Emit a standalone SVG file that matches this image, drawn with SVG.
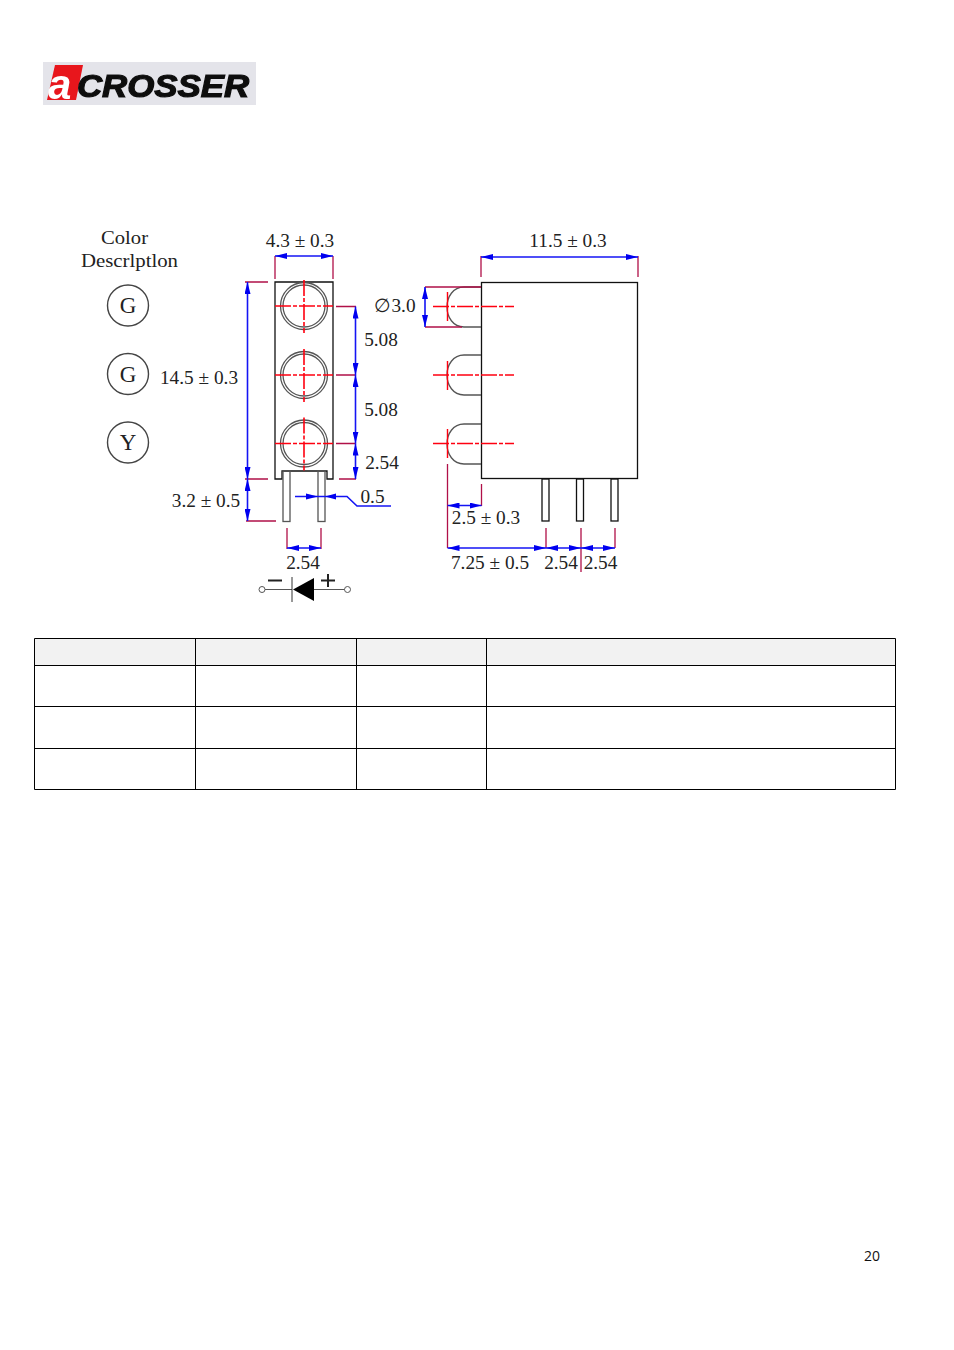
<svg xmlns="http://www.w3.org/2000/svg" width="954" height="1350" viewBox="0 0 954 1350">
<style>
.t{font-family:"Liberation Serif","Times New Roman",serif;font-size:19.3px;fill:#222}
.c{fill:#fff;stroke:#444;stroke-width:1.4}
.k{fill:none;stroke:#111;stroke-width:1.3}
.g{fill:none;stroke:#555;stroke-width:1.3}
.d{fill:none;stroke:#b01048;stroke-width:1.3}
.b{fill:none;stroke:#1414f4;stroke-width:1.6}
.r{fill:none;stroke:#ff0010;stroke-width:1.6;stroke-dasharray:16 2 4 2}
.rs{fill:none;stroke:#ff0010;stroke-width:1.4}
.a{fill:#0000f0}
.tb{fill:none;stroke:#000;stroke-width:1}
</style>
<defs>
<filter id="soft" x="-5%" y="-5%" width="110%" height="110%"><feGaussianBlur stdDeviation="0.7"/></filter>
<marker id="ah" viewBox="0 0 12 6" refX="12" refY="3" markerWidth="12" markerHeight="6" markerUnits="userSpaceOnUse" orient="auto-start-reverse"><path d="M12 3L0 0V6Z" class="a"/></marker>
<g id="led"><circle r="23.500" fill="none" stroke="#555" stroke-width="1.3"/><circle r="21" fill="none" stroke="#555" stroke-width="1.3"/><path class="r" d="M-29 0H29M0 -26V27"/></g>
<path id="dome" d="M481 -20H464C453 -20 447 -10 447 0C447 10 453 20 464 20H481" class="g"/>
</defs>
<rect width="954" height="1350" fill="#fff"/>
<g id="logo">
<rect x="43" y="62" width="213" height="43" fill="#e4e4ea"/>
<g filter="url(#soft)">
<path d="M55 65H83L76 100H47Z" fill="#e8141c"/>
<text x="48" y="99" font-family="Liberation Sans,Arial,sans-serif" font-weight="700" font-style="italic" font-size="42" fill="#fff">a</text>
<text x="77" y="97" font-family="Liberation Sans,Arial,sans-serif" font-weight="700" font-style="italic" font-size="32" fill="#111" stroke="#111" stroke-width="1.2" textLength="172" lengthAdjust="spacingAndGlyphs">CROSSER</text>
</g>
</g>
<g id="color-header"><text class="t" x="124.500" y="244" text-anchor="middle" textLength="47" lengthAdjust="spacingAndGlyphs">Color</text><text class="t" x="129.500" y="267" text-anchor="middle" textLength="97" lengthAdjust="spacingAndGlyphs">Descrlptlon</text></g>
<g id="badge-1"><circle class="c" cx="128" cy="305.500" r="20.500"/><text class="t" x="128" y="313" text-anchor="middle" style="font-size:23px">G</text></g>
<g id="badge-2"><circle class="c" cx="128" cy="374" r="20.500"/><text class="t" x="128" y="381.500" text-anchor="middle" style="font-size:23px">G</text></g>
<g id="badge-3"><circle class="c" cx="128" cy="442.500" r="20.500"/><text class="t" x="128" y="450" text-anchor="middle" style="font-size:23px">Y</text></g>
<g id="front-view">
<path class="k" d="M275 282H333V479H327V471H282V479H275Z"/>
<use href="#led" x="304" y="306"/><use href="#led" x="304" y="375"/><use href="#led" x="304" y="443.500"/>
<rect x="283" y="471" width="7" height="50.500" class="g"/><rect x="318" y="471" width="7" height="50.500" class="g"/>
</g>
<g id="side-view">
<rect x="481.500" y="282.500" width="156" height="196" class="k"/>
<use href="#dome" y="307"/><use href="#dome" y="375"/><use href="#dome" y="444"/>
<path class="r" d="M433 306.500H514M433 375H514M433 443.500H514"/>
<path class="rs" d="M447.500 292V321M447.500 361V390M447.500 429V458"/>
<rect x="542" y="479" width="7" height="42" class="k"/><rect x="576.500" y="479" width="7" height="42" class="k"/><rect x="611" y="479" width="7" height="42" class="k"/>
</g>
<g id="connectors">
<path class="d" d="M275 279V256M333 279V256M245 282H268M245 479H268M246 521H276M336 306.500H356M336 375H356M336 443.500H356M339 479H356M287 528V549M321 528V549M481 277V256M638 277V256M425 287H481M425 327H462M447.500 464V548M481.500 484V506M546 528V548M581 528V572M615 528V548"/>
<path class="b" marker-start="url(#ah)" marker-end="url(#ah)" d="M275 256H333"/>
<path class="b" marker-start="url(#ah)" marker-end="url(#ah)" d="M247.500 282V479"/>
<path class="b" marker-start="url(#ah)" marker-end="url(#ah)" d="M247.500 479V521"/>
<path class="b" marker-start="url(#ah)" marker-end="url(#ah)" d="M355.500 306.500V375"/>
<path class="b" marker-start="url(#ah)" marker-end="url(#ah)" d="M355.500 375V443.500"/>
<path class="b" marker-start="url(#ah)" marker-end="url(#ah)" d="M355.500 443.500V479"/>
<path class="b" marker-start="url(#ah)" marker-end="url(#ah)" d="M287 548H321"/>
<path class="b" marker-start="url(#ah)" marker-end="url(#ah)" d="M481 257H638"/>
<path class="b" marker-start="url(#ah)" marker-end="url(#ah)" d="M425 287V327"/>
<path class="b" marker-start="url(#ah)" marker-end="url(#ah)" d="M447.500 505.500H481.500"/>
<path class="b" marker-start="url(#ah)" marker-end="url(#ah)" d="M447.500 548H546"/>
<path class="b" marker-start="url(#ah)" marker-end="url(#ah)" d="M546 548H581"/>
<path class="b" marker-start="url(#ah)" marker-end="url(#ah)" d="M581 548H615"/>
<path class="b" d="M295 496.500H347L357 506H391"/>
<path class="a" d="M318 496.500L306 493.500V499.500ZM325 496.500L336 493.500V499.500Z"/>
</g>
<g id="dimension-labels">
<text class="t" x="300" y="247" text-anchor="middle">4.3 ± 0.3</text>
<text class="t" x="568" y="247" text-anchor="middle">11.5 ± 0.3</text>
<text class="t" x="395" y="312" text-anchor="middle">∅3.0</text>
<text class="t" x="381" y="346" text-anchor="middle">5.08</text>
<text class="t" x="381" y="416" text-anchor="middle">5.08</text>
<text class="t" x="382" y="469" text-anchor="middle">2.54</text>
<text class="t" x="199" y="384" text-anchor="middle">14.5 ± 0.3</text>
<text class="t" x="206" y="507" text-anchor="middle">3.2 ± 0.5</text>
<text class="t" x="372.500" y="503" text-anchor="middle">0.5</text>
<text class="t" x="303" y="569" text-anchor="middle">2.54</text>
<text class="t" x="486" y="524" text-anchor="middle">2.5 ± 0.3</text>
<text class="t" x="490" y="569" text-anchor="middle">7.25 ± 0.5</text>
<text class="t" x="561" y="569" text-anchor="middle">2.54</text>
<text class="t" x="600.500" y="569" text-anchor="middle">2.54</text>
</g>
<g id="diode">
<circle cx="262" cy="589.500" r="3" fill="#fff" stroke="#555" stroke-width="1"/>
<circle cx="347.500" cy="589.500" r="3" fill="#fff" stroke="#555" stroke-width="1"/>
<path d="M265 589.500H292M314 589.500H344.500" stroke="#555" stroke-width="1.200" fill="none"/>
<path d="M292 577V602" stroke="#333" stroke-width="1" fill="none"/>
<path d="M293 589.500L314 578V601Z" fill="#000"/>
<path d="M268 580.500H282M321 580.500H335M328 574V587" stroke="#222" stroke-width="2" fill="none"/>
</g>
<g id="table">
<rect x="34.500" y="638.500" width="861" height="27" fill="#f2f2f2"/>
<path class="tb" d="M34.500 638.500H895.500V789.500H34.500ZM34.500 665.500H895.500M34.500 706.500H895.500M34.500 748.500H895.500M195.500 638.500V789.500M356.500 638.500V789.500M486.500 638.500V789.500"/>
</g>
<text id="page-number" x="872" y="1261" text-anchor="middle" font-family="'Open Sans','Noto Sans',sans-serif" font-size="14" fill="#111">20</text>
</svg>
